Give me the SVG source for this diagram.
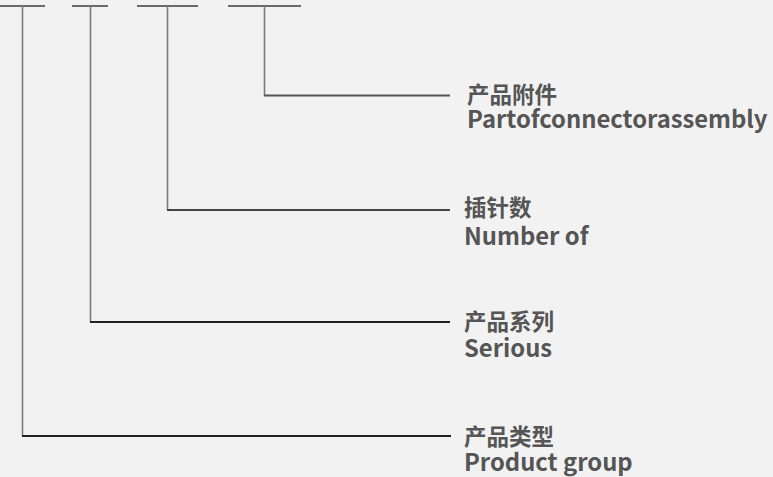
<svg xmlns="http://www.w3.org/2000/svg" width="773" height="477" viewBox="0 0 773 477">
<style>
.bar{stroke:#6a6a6a;stroke-width:2;fill:none}
.v{stroke:#7a7a7a;stroke-width:1.6;fill:none}
.h{stroke:#333;stroke-width:2;fill:none}
.t{font-family:"Noto Sans CJK SC","Noto Sans",sans-serif;font-weight:bold;fill:#555}
.zh{font-size:22.5px}
.en{font-size:23.8px}
</style>
<rect width="773" height="477" fill="#f2f2f2"/>
<g id="connectors">
<line class="bar" x1="0" y1="6" x2="45" y2="6"/>
<line class="bar" x1="72" y1="6" x2="108" y2="6"/>
<line class="bar" x1="137" y1="6" x2="198" y2="6"/>
<line class="bar" x1="228" y1="6" x2="301" y2="6"/>
<polyline class="v" points="264.5,6 264.5,95.5"/>
<line class="h" x1="264" y1="95.5" x2="450" y2="95.5" style="stroke:#555"/>
<polyline class="v" points="167.5,6 167.5,210"/>
<line class="h" x1="167" y1="210" x2="450" y2="210" style="stroke:#444"/>
<polyline class="v" points="90.5,6 90.5,322"/>
<line class="h" x1="90" y1="322" x2="450" y2="322" style="stroke:#222"/>
<polyline class="v" points="22.5,6 22.5,436"/>
<line class="h" x1="22" y1="436" x2="451" y2="436" style="stroke:#222"/>
</g>
<g id="node-accessory">
<text class="t zh" x="467" y="103">产品附件</text>
<text class="t en" x="467" y="128">Partofconnectorassembly</text>
</g>
<g id="node-pins">
<text class="t zh" x="464" y="216">插针数</text>
<text class="t en" x="464" y="245">Number of</text>
</g>
<g id="node-series">
<text class="t zh" x="464" y="330">产品系列</text>
<text class="t en" x="464" y="357">Serious</text>
</g>
<g id="node-group">
<text class="t zh" x="464" y="445">产品类型</text>
<text class="t en" x="464" y="471">Product group</text>
</g>
</svg>
